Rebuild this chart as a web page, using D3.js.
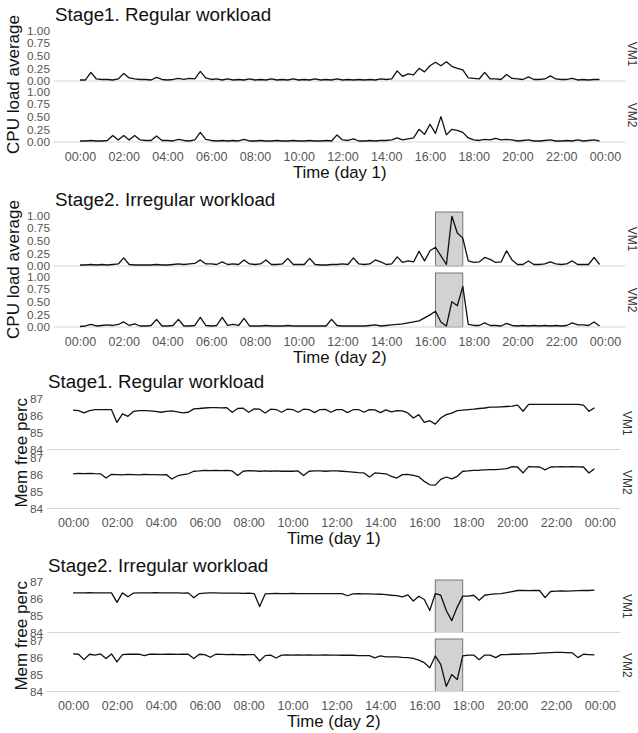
<!DOCTYPE html>
<html>
<head>
<meta charset="utf-8">
<title>cpu mem workload</title>
<script src="https://d3js.org/d3.v7.min.js"></script>
<style>
body{margin:0;background:#fff;}
text{font-family:"Liberation Sans",Arial,sans-serif;}
</style>
</head>
<body>
<svg width="638" height="733" id="mainsvg"></svg>
<script>
// one value every 15 minutes, 00:00 -> 23:45
const cpuS1VM1=[0.02,0.02,0.17,0.04,0.03,0.03,0.02,0.04,0.15,0.06,0.04,0.03,
0.03,0.02,0.07,0.03,0.02,0.03,0.05,0.03,0.05,0.04,0.19,0.06,
0.03,0.04,0.02,0.04,0.02,0.03,0.02,0.04,0.02,0.03,0.02,0.04,
0.02,0.03,0.02,0.04,0.02,0.03,0.02,0.04,0.02,0.03,0.02,0.04,
0.02,0.03,0.02,0.03,0.02,0.03,0.02,0.04,0.03,0.04,0.20,0.09,
0.14,0.12,0.25,0.18,0.30,0.37,0.30,0.38,0.29,0.25,0.22,0.06,
0.05,0.04,0.17,0.04,0.04,0.03,0.13,0.05,0.04,0.03,0.08,0.03,
0.03,0.04,0.10,0.04,0.03,0.03,0.05,0.02,0.03,0.02,0.03,0.03];
const cpuS1VM2=[0.02,0.02,0.03,0.02,0.02,0.03,0.13,0.04,0.13,0.04,0.13,0.04,
0.03,0.03,0.12,0.03,0.03,0.02,0.05,0.03,0.02,0.04,0.19,0.05,
0.03,0.02,0.03,0.02,0.03,0.02,0.05,0.02,0.02,0.03,0.02,0.02,
0.03,0.02,0.02,0.03,0.02,0.02,0.03,0.02,0.02,0.03,0.02,0.14,
0.04,0.03,0.06,0.02,0.02,0.03,0.02,0.03,0.03,0.04,0.08,0.04,
0.06,0.08,0.25,0.15,0.35,0.17,0.50,0.14,0.25,0.23,0.19,0.08,
0.04,0.03,0.05,0.04,0.07,0.04,0.05,0.04,0.02,0.03,0.04,0.02,
0.02,0.03,0.04,0.02,0.02,0.03,0.02,0.04,0.02,0.03,0.04,0.02];
const cpuS2VM1=[0.02,0.02,0.03,0.02,0.03,0.02,0.03,0.04,0.16,0.03,0.02,0.02,
0.02,0.02,0.03,0.02,0.02,0.03,0.04,0.03,0.04,0.05,0.12,0.04,
0.04,0.03,0.08,0.03,0.04,0.03,0.12,0.04,0.03,0.04,0.12,0.03,
0.03,0.04,0.15,0.03,0.03,0.03,0.15,0.03,0.02,0.02,0.03,0.03,
0.04,0.03,0.16,0.04,0.03,0.04,0.12,0.08,0.03,0.04,0.18,0.07,
0.10,0.08,0.29,0.10,0.30,0.37,0.20,0.03,0.98,0.65,0.55,0.10,
0.07,0.08,0.17,0.13,0.07,0.08,0.30,0.12,0.03,0.03,0.10,0.03,
0.03,0.04,0.08,0.04,0.03,0.04,0.10,0.03,0.03,0.03,0.17,0.03];
const cpuS2VM2=[0.01,0.02,0.05,0.02,0.03,0.04,0.03,0.05,0.10,0.03,0.06,0.02,
0.02,0.03,0.15,0.02,0.02,0.03,0.15,0.02,0.02,0.03,0.19,0.03,
0.02,0.03,0.19,0.03,0.05,0.03,0.17,0.02,0.02,0.02,0.03,0.02,
0.02,0.02,0.03,0.02,0.02,0.02,0.02,0.02,0.02,0.02,0.15,0.03,
0.02,0.02,0.02,0.02,0.02,0.03,0.04,0.02,0.03,0.04,0.05,0.06,
0.08,0.10,0.12,0.18,0.24,0.31,0.10,0.02,0.50,0.42,0.80,0.05,
0.03,0.03,0.08,0.03,0.03,0.02,0.07,0.03,0.02,0.03,0.02,0.03,
0.02,0.03,0.02,0.03,0.02,0.03,0.08,0.04,0.04,0.03,0.10,0.02];

const memS1VM1=[86.32,86.30,86.16,86.30,86.35,86.36,86.36,86.35,85.60,86.10,85.96,86.25,
86.30,86.30,86.28,86.25,86.20,86.25,86.28,86.22,86.16,86.20,86.40,86.42,
86.45,86.47,86.47,86.46,86.47,86.20,86.42,86.44,86.20,86.40,86.38,86.15,
86.38,86.36,86.20,86.38,86.36,86.20,86.38,86.36,86.18,86.36,86.37,86.20,
86.35,86.36,86.18,86.35,86.36,86.20,86.35,86.34,86.18,86.34,86.22,86.30,
86.28,86.16,85.86,86.06,85.60,85.70,85.50,85.86,86.06,86.15,86.30,86.32,
86.36,86.38,86.42,86.45,86.50,86.50,86.52,86.54,86.56,86.62,86.26,86.66,
86.66,86.67,86.66,86.66,86.67,86.66,86.67,86.66,86.66,86.62,86.26,86.46];
const memS1VM2=[86.04,86.08,86.06,86.08,86.06,86.05,85.80,86.02,86.00,85.98,86.02,86.00,
85.98,86.02,86.00,86.00,85.98,86.00,85.74,85.92,86.00,86.05,86.20,86.22,
86.25,86.24,86.25,86.24,86.25,86.22,85.95,86.20,86.24,86.22,86.20,86.22,
86.20,86.22,86.20,86.21,86.20,86.22,85.95,86.20,86.22,86.22,86.20,86.22,
86.22,86.20,86.18,86.15,86.12,86.10,85.86,86.10,86.08,86.05,85.90,85.80,
86.00,86.02,85.95,85.88,85.60,85.40,85.38,85.72,85.86,85.75,85.90,86.20,
86.22,86.25,86.26,86.28,86.30,86.30,86.32,86.35,86.47,86.45,86.10,86.47,
86.46,86.45,86.28,86.45,86.46,86.47,86.46,86.47,86.46,86.45,86.10,86.35];
const memS2VM1=[86.34,86.34,86.34,86.35,86.34,86.34,86.34,86.34,85.78,86.34,86.11,86.33,
86.34,86.34,86.34,86.35,86.34,86.34,86.34,86.34,86.33,86.34,86.05,86.30,
86.33,86.34,86.34,86.33,86.32,86.33,86.32,86.31,86.32,86.30,85.53,86.28,
86.30,86.31,86.30,86.30,86.31,86.30,86.30,86.30,86.29,86.30,86.30,86.29,
86.30,86.30,86.17,86.28,86.29,86.28,86.28,86.27,86.26,86.24,86.20,86.18,
86.10,86.22,85.86,86.14,85.95,85.30,86.30,86.20,85.30,84.70,85.50,86.15,
86.15,86.20,85.90,86.20,86.25,86.28,86.30,86.35,86.42,86.48,86.48,86.47,
86.48,86.48,86.06,86.42,86.44,86.45,86.44,86.46,86.47,86.48,86.48,86.50];
const memS2VM2=[86.22,86.20,85.88,86.20,86.15,86.22,85.95,86.22,85.75,86.18,86.20,86.20,
86.20,86.12,86.20,86.20,86.19,86.20,86.20,86.19,86.20,86.20,85.95,86.20,
86.18,86.02,86.20,86.19,86.18,86.19,86.18,86.17,86.18,86.18,85.80,86.12,
86.15,85.98,86.15,86.16,86.15,86.16,86.15,86.16,86.15,86.15,86.16,86.15,
86.15,86.14,86.15,86.14,86.12,86.12,86.12,85.98,86.10,86.05,86.05,86.05,
86.02,86.00,85.95,85.85,85.70,85.40,86.10,85.60,84.30,85.00,84.70,86.10,
86.15,86.15,85.88,86.15,86.15,86.00,86.18,86.18,86.20,86.20,86.22,86.22,
86.24,86.26,86.28,86.30,86.31,86.31,86.30,86.28,86.00,86.20,86.18,86.16];

const hours=d3.range(96).map(i=>i/4);
const hourTicks=[0,2,4,6,8,10,12,14,16,18,20,22,24];
const vmNames=['VM1','VM2'];
const cpuTicks=[0,0.25,0.5,0.75,1];
const memTicks=[84,85,86,87];
const cpuShade=[16.25,17.5];   // grey window, day 2
const memShade=[16.5,17.75];

const svg=d3.select('#mainsvg');

const plots=[
 {title:'Stage1. Regular workload',ylab:'CPU load average',xlab:'Time (day 1)',series:[cpuS1VM1,cpuS1VM2],
  ticks:cpuTicks,ydom:[0,1.065],fmt:d3.format('.2f'),shade:null,top:27,fh:54,gap:7,left:54,right:625.5,titleY:21,ylabX:13.5},
 {title:'Stage2. Irregular workload',ylab:'CPU load average',xlab:'Time (day 2)',series:[cpuS2VM1,cpuS2VM2],
  ticks:cpuTicks,ydom:[0,1.065],fmt:d3.format('.2f'),shade:cpuShade,top:212,fh:54,gap:7,left:54,right:625.5,titleY:206,ylabX:13.5},
 {title:'Stage1. Regular workload',ylab:'Mem free perc',xlab:'Time (day 1)',series:[memS1VM1,memS1VM2],
  ticks:memTicks,ydom:[84,87.1],fmt:d3.format('d'),shade:null,top:397,fh:52.5,gap:6.5,left:47,right:620.5,titleY:388,ylabX:21},
 {title:'Stage2. Irregular workload',ylab:'Mem free perc',xlab:'Time (day 2)',series:[memS2VM1,memS2VM2],
  ticks:memTicks,ydom:[84,87.1],fmt:d3.format('d'),shade:memShade,top:580,fh:52.5,gap:6.5,left:47,right:620.5,titleY:572,ylabX:21}
];

const hh=h=>String(h%24).padStart(2,'0')+':00';

plots.forEach(p=>{
  const g=svg.append('g');
  // ggplot style 5% expansion around 0..23.75h
  const x=d3.scaleLinear().domain([-1.1875,24.9375]).range([p.left,p.right]);

  g.append('text').attr('x',p.left+1).attr('y',p.titleY)
   .style('font-size','18.8px').attr('fill','#111').text(p.title);

  let bottom=0;
  p.series.forEach((vals,k)=>{
    const y0=p.top+k*(p.fh+p.gap);
    bottom=y0+p.fh;
    const y=d3.scaleLinear().domain(p.ydom).range([y0+p.fh,y0]);

    if(p.shade){
      g.append('rect').attr('x',x(p.shade[0])).attr('y',y0)
       .attr('width',x(p.shade[1])-x(p.shade[0])).attr('height',p.fh)
       .attr('fill','#d2d2d2').attr('stroke','#6a6a6a').attr('stroke-width',0.9);
    }
    g.append('line').attr('x1',p.left).attr('x2',p.right)
     .attr('y1',y(p.ydom[0])).attr('y2',y(p.ydom[0]))
     .attr('stroke','#d6d6d6').attr('stroke-width',1);

    const ya=g.append('g').attr('transform',`translate(${p.left},0)`)
     .call(d3.axisLeft(y).tickValues(p.ticks).tickSize(0).tickPadding(4).tickFormat(p.fmt));
    ya.select('.domain').remove();
    ya.selectAll('text').style('font-size','11.8px').attr('fill','#555')
     .style('font-family','"Liberation Sans",Arial,sans-serif');

    g.append('path').datum(vals)
     .attr('d',d3.line().x((d,i)=>x(hours[i])).y(d=>y(d)))
     .attr('fill','none').attr('stroke','#111').attr('stroke-width',1.3)
     .attr('stroke-linejoin','round');

    g.append('text').attr('transform',`translate(${p.right+6.5},${y0+p.fh/2}) rotate(90)`)
     .attr('text-anchor','middle').attr('dominant-baseline','central')
     .style('font-size','12px').attr('fill','#333').text(vmNames[k]);
  });

  const xa=g.append('g').attr('transform',`translate(0,${bottom})`)
   .call(d3.axisBottom(x).tickValues(hourTicks).tickSize(0).tickPadding(10).tickFormat(hh));
  xa.select('.domain').remove();
  xa.selectAll('text').style('font-size','12.5px').attr('fill','#555')
   .style('font-family','"Liberation Sans",Arial,sans-serif');

  g.append('text').attr('x',(p.left+p.right)/2).attr('y',bottom+30)
   .attr('text-anchor','middle').attr('dominant-baseline','central')
   .style('font-size','16.8px').attr('fill','#111').text(p.xlab);

  g.append('text').attr('transform',`translate(${p.ylabX},${p.top+p.fh+p.gap/2}) rotate(-90)`)
   .attr('text-anchor','middle').attr('dominant-baseline','central')
   .style('font-size','17px').attr('fill','#111').text(p.ylab);
});
</script>
</body>
</html>
